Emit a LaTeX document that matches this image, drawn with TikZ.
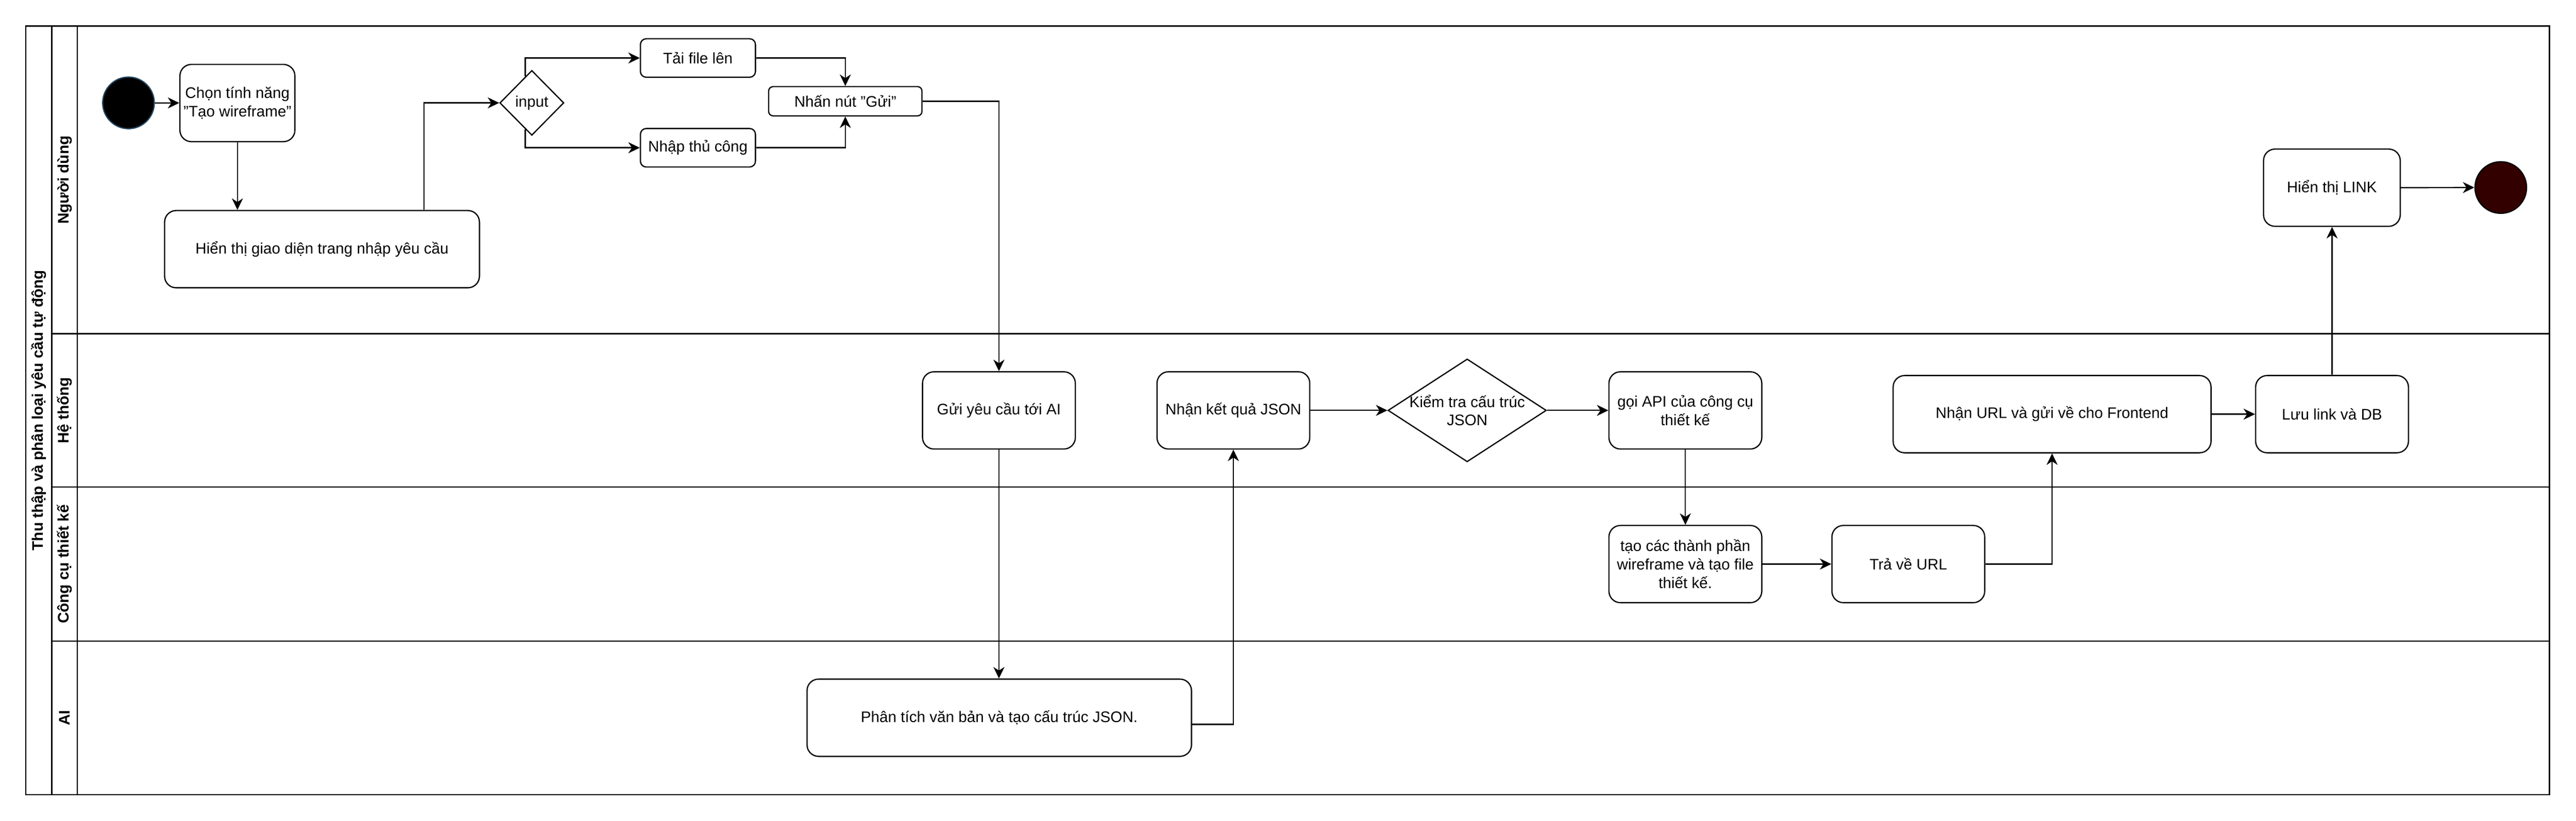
\documentclass[tikz,border=0pt]{standalone}
\usepackage{fontspec}
\setmainfont{Liberation Sans}
\usetikzlibrary{shapes.geometric,arrows.meta}
\definecolor{vienxanh}{HTML}{23445D}
\definecolor{donau}{HTML}{330000}

\begin{document}
\begin{tikzpicture}[x=1pt,y=-1pt,line width=0.75pt,
	font=\fontsize{9.3}{11.2}\selectfont,
	>={Stealth[length=7pt,width=6.7pt,inset=2.2pt]},
	box/.style={draw,rounded corners=7pt,align=center,inner sep=1pt,minimum width=93pt,minimum height=47pt},
	smallbox/.style={draw,rounded corners=3.5pt,align=center,inner sep=1pt,minimum width=70pt,minimum height=23.4pt},
	choice/.style={draw,diamond,inner sep=0pt,align=center},
	dot/.style={circle,inner sep=0pt,minimum size=31.4pt},
	lanename/.style={rotate=90,font=\fontsize{9.3}{11.2}\selectfont\bfseries}]
	%\draw[help lines] (0,0) grid (1568,500);
	\useasboundingbox (0,0) rectangle (1567.9,499.5);
	% khung
	\draw (15.7,15.9) rectangle (1551.7,483.5);
	\draw (31.5,15.9)--(31.5,483.5);
	\draw (47,15.9)--(47,483.5);
	\foreach \y in {203.1,296.4,390}
		\draw (31.5,\y)--(1551.7,\y);
	\node[lanename] (tieude) at (23.6,249.7) {Thu thập và phân loại yêu cầu tự động};
	\node[lanename] (nguoidung) at (39.3,109.5) {Người dùng};
	\node[lanename] (hethong) at (39.3,249.7) {Hệ thống};
	\node[lanename] (congcu) at (39.3,343.2) {Công cụ thiết kế};
	\node[lanename] (ai) at (39.3,436.7) {AI};
	% cac buoc
	\node[dot,draw=vienxanh,fill=black] (batdau) at (78.2,62.6) {};
	\node[box,minimum width=70pt] (chon) at (144.5,62.7) {Chọn tính năng\\"Tạo wireframe"};
	\node[box,minimum width=191.6pt] (hienthi) at (196,151.6) {Hiển thị giao diện trang nhập yêu cầu};
	\node[choice,minimum width=39pt,minimum height=39.5pt] (inp) at (323.7,62.6) {input};
	\node[smallbox] (taifile) at (424.8,35.3) {Tải file lên};
	\node[smallbox] (nhap) at (424.8,89.9) {Nhập thủ công};
	\node[smallbox,rounded corners=2.7pt,minimum width=93.3pt,minimum height=17.8pt] (nhannut) at (514.5,61.6) {Nhấn nút "Gửi"};
	\node[box] (guiai) at (608,249.7) {Gửi yêu cầu tới AI};
	\node[box] (ketqua) at (750.7,249.7) {Nhận kết quả JSON};
	\node[choice,minimum width=96.4pt,minimum height=62.6pt,label={[align=center]center:{Kiểm tra cấu trúc\\JSON}}] (kiemtra) at (893,249.7) {};
	\node[box] (goiapi) at (1025.8,249.7) {gọi API của công cụ\\thiết kế};
	\node[box,minimum width=193.5pt] (nhanurl) at (1249,252) {Nhận URL và gửi về cho Frontend};
	\node[box] (luulink) at (1419.4,252) {Lưu link và DB};
	\node[box] (taocac) at (1025.8,343.2) {tạo các thành phần\\wireframe và tạo file\\thiết kế.};
	\node[box] (trave) at (1161.5,343.2) {Trả về URL};
	\node[box,minimum width=234pt] (phantich) at (608.2,436.7) {Phân tích văn bản và tạo cấu trúc JSON.};
	\node[box,minimum width=83.2pt] (hienlink) at (1419.3,114.2) {Hiển thị LINK};
	\node[dot,draw=black,fill=donau] (ketthuc) at (1522.1,114.1) {};
	% mui ten
	\draw[->] (batdau)--(chon);
	\draw[->] (chon.south)--(chon.south |- hienthi.north);
	\draw[->] ([xshift=62pt]hienthi.north) |- (inp.west);
	\draw[->] (inp.104) |- (taifile.west);
	\draw[->] (inp.256) |- (nhap.west);
	\draw[->] (taifile.east) -| (nhannut.north);
	\draw[->] (nhap.east) -| (nhannut.south);
	\draw[->] (nhannut.east) -| (guiai.north);
	\draw[->] (guiai.south)--(guiai.south |- phantich.north);
	\draw[->] ([yshift=-4pt]phantich.east) -| (ketqua.south);
	\draw[->] (ketqua.east)--(kiemtra.west);
	\draw[->] (kiemtra.east)--(goiapi.west);
	\draw[->] (goiapi.south)--(taocac.north);
	\draw[->] (taocac.east)--(trave.west);
	\draw[->] (trave.east) -| (nhanurl.south);
	\draw[->] (nhanurl.east)--(luulink.west);
	\draw[->] (luulink.north)--(luulink.north |- hienlink.south);
	\draw[->] (hienlink.east)--(ketthuc.west);
\end{tikzpicture}
\end{document}
